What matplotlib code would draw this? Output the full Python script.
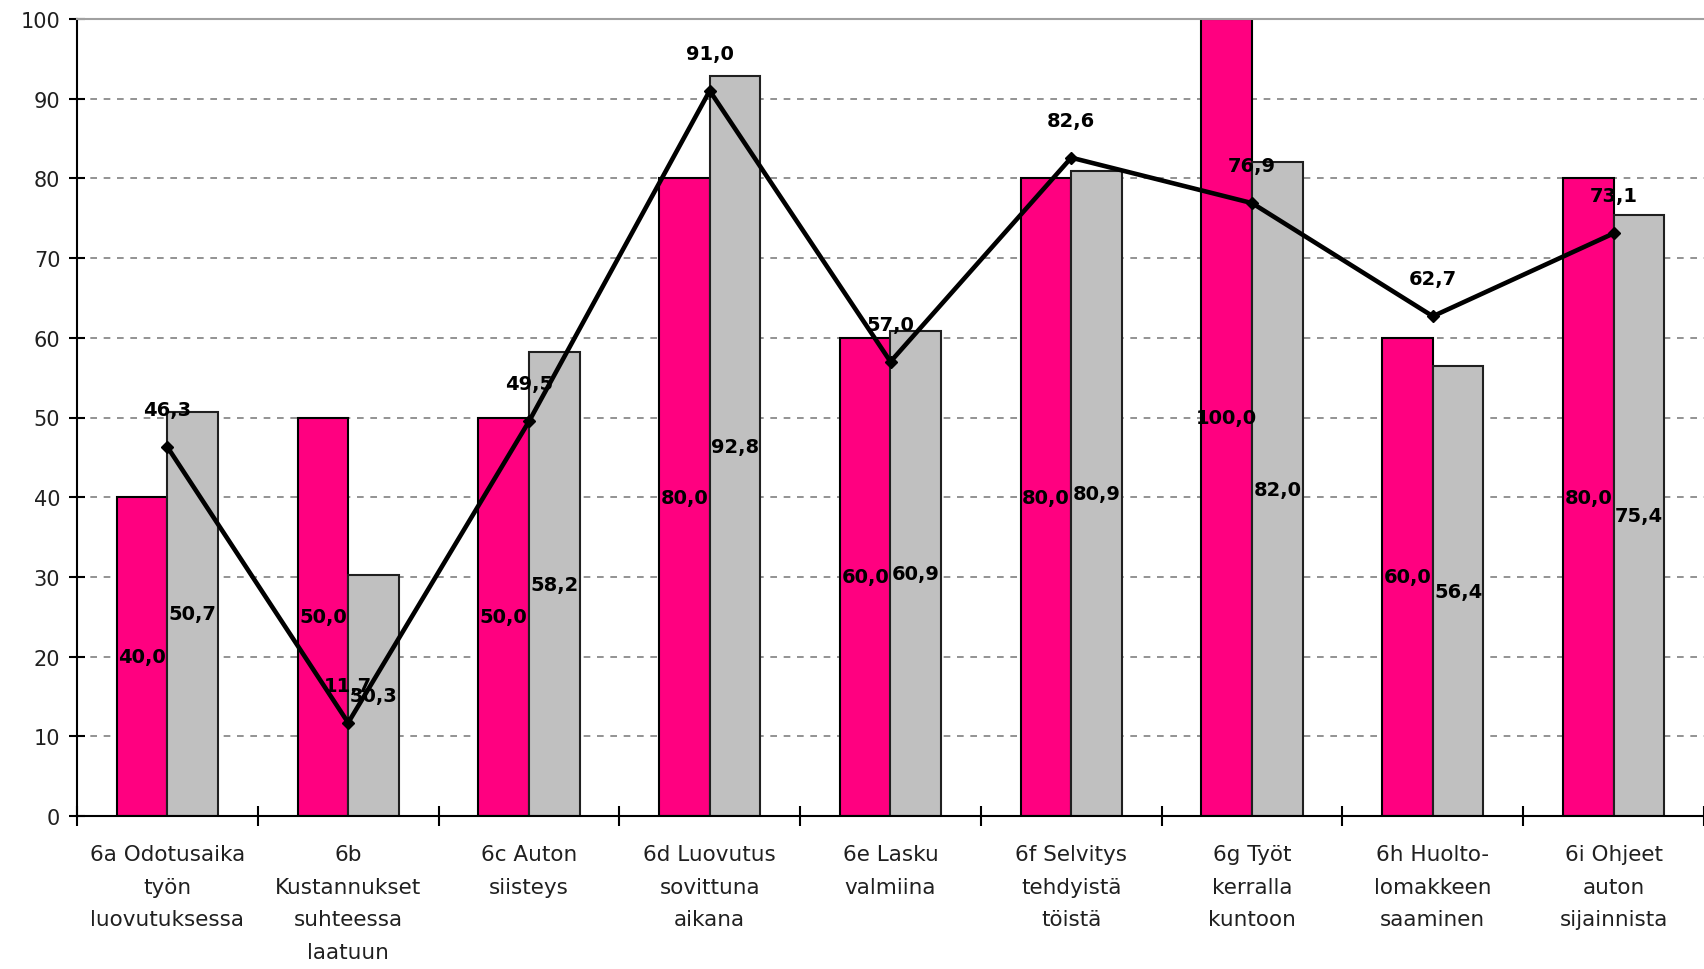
import matplotlib
matplotlib.use("Agg")
import matplotlib.pyplot as plt
import numpy as np

categories = [
    "6a Odotusaika\ntyön\nluovutuksessa",
    "6b\nKustannukset\nsuhteessa\nlaatuun",
    "6c Auton\nsiisteys",
    "6d Luovutus\nsovittuna\naikana",
    "6e Lasku\nvalmiina",
    "6f Selvitys\ntehdyistä\ntöistä",
    "6g Työt\nkerralla\nkuntoon",
    "6h Huolto-\nlomakkeen\nsaaminen",
    "6i Ohjeet\nauton\nsijainnista",
]
pink_values = [40.0, 50.0, 50.0, 80.0, 60.0, 80.0, 100.0, 60.0, 80.0]
gray_values = [50.7, 30.3, 58.2, 92.8, 60.9, 80.9, 82.0, 56.4, 75.4]
line_values = [46.3, 11.7, 49.5, 91.0, 57.0, 82.6, 76.9, 62.7, 73.1]
y_ticks = [0, 10, 20, 30, 40, 50, 60, 70, 80, 90, 100]


def fmt(v):
    return f"{v:.1f}".replace(".", ",")


W, H = 1704, 970
fig = plt.figure(figsize=(W / 100, H / 100), dpi=100)
left_px, right_px, top_px, bottom_px = 77, 1704, 20, 817
ax = fig.add_axes([left_px / W, (H - bottom_px) / H,
                   (right_px - left_px) / W, (bottom_px - top_px) / H])

cat_w_px = 181.6
x = np.arange(len(categories))
ax.set_xlim(-0.5, -0.5 + (right_px - left_px) / cat_w_px)
ax.set_ylim(0, 100)

bw = 0.28
pink = "#FF0080"
gray = "#C0C0C0"
ax.bar(x - bw / 2, pink_values, width=bw, color=pink, edgecolor="black",
       linewidth=1.5, zorder=2)
ax.bar(x + bw / 2, gray_values, width=bw, color=gray, edgecolor="#202020",
       linewidth=1.5, zorder=2)
ax.plot(x, line_values, color="black", linewidth=3.3, marker="D",
        markersize=6, zorder=4)

lab_kw = dict(fontsize=14, fontweight="bold", color="black",
              ha="center", va="center", zorder=5, family="DejaVu Sans")
for i in range(len(categories)):
    ax.text(x[i] - bw / 2, pink_values[i] / 2, fmt(pink_values[i]), **lab_kw)
    ax.text(x[i] + bw / 2, gray_values[i] / 2, fmt(gray_values[i]), **lab_kw)
    ax.annotate(fmt(line_values[i]), (x[i], line_values[i]),
                xytext=(0, 27), textcoords="offset points", **lab_kw)

# dashed gridlines between the axis limits
ax.set_yticks(y_ticks)
for yv in y_ticks[1:-1]:
    ax.axhline(yv, color="#808080", linewidth=1.2, linestyle=(0, (4, 4)),
               zorder=1)

ax.spines["top"].set_color("#A0A0A0")
ax.spines["top"].set_linewidth(1.5)
ax.spines["right"].set_visible(False)
ax.spines["left"].set_linewidth(1.5)
ax.spines["bottom"].set_linewidth(1.5)

ax.tick_params(axis="y", direction="inout", length=12, width=1.5,
               labelsize=15, pad=6, colors="black")
ax.set_xticks(x)
ax.set_xticklabels(categories, fontsize=15.5, linespacing=1.8)
ax.tick_params(axis="x", which="major", length=0, pad=20)
ax.set_xticks(np.arange(-0.5, len(categories), 1.0), minor=True)
ax.tick_params(axis="x", which="minor", direction="inout", length=14,
               width=1.5)
for lbl in ax.get_yticklabels():
    lbl.set_color("#202020")
for lbl in ax.get_xticklabels():
    lbl.set_color("#202020")

fig.savefig("out.png", dpi=100)
